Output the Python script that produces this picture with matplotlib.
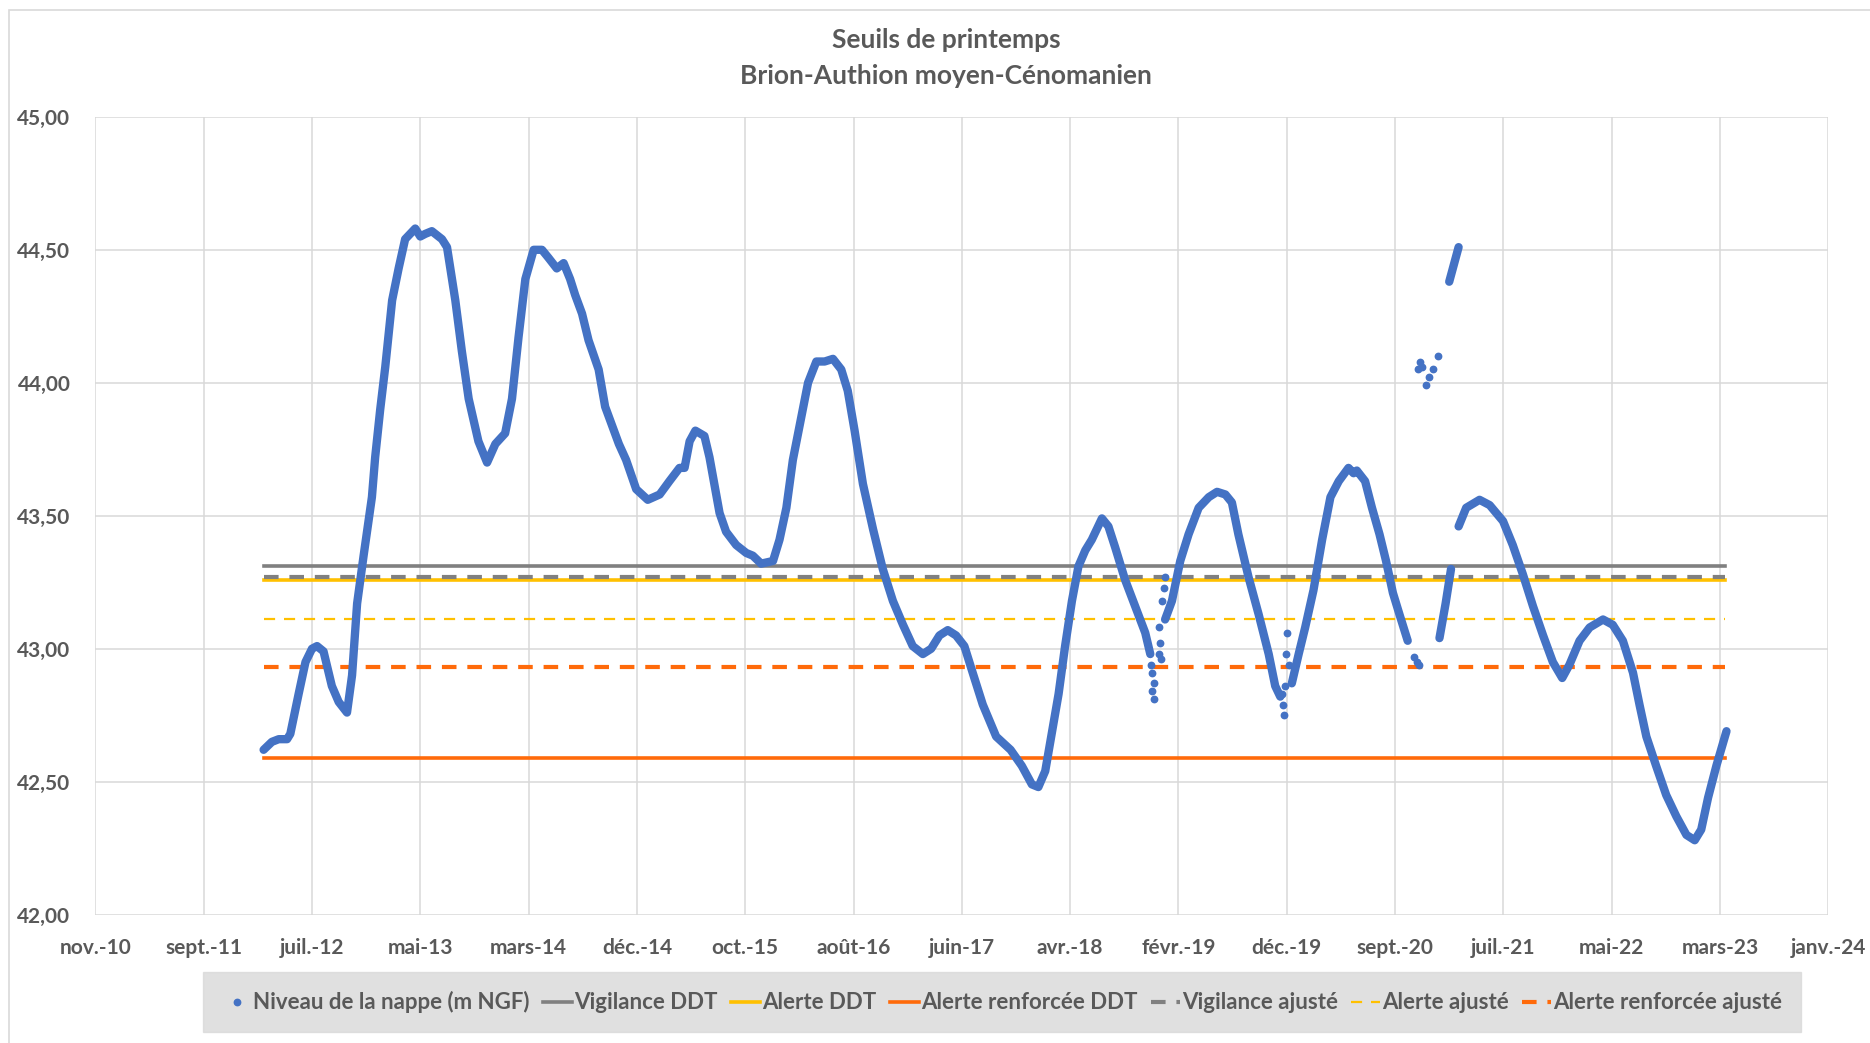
"""
   Seuils de printemps - Brion-Authion moyen-Cenomanien.
   Niveau de la nappe et seuils DDT / ajustes.
"""
import numpy as np
import pandas as pd
import matplotlib
matplotlib.use("Agg")
import matplotlib.pyplot as plt
import matplotlib.dates as mdates
from matplotlib.ticker import FuncFormatter, MultipleLocator
from matplotlib.patches import Rectangle

#     Dates en numeros de jour Excel (origine 1899-12-30), None = trou dans la serie
niveau_jours = [
    40966, 40989, 41008, 41031, 41040, 41063, 41082, 41100, 41114, 41132,
    41155, 41174, 41197, 41211, 41225, 41243, 41266, 41275, 41289, 41303,
    41322, 41340, 41358, 41386, 41400, 41414, 41432, 41460, 41474, 41497,
    41515, 41534, 41561, 41585, 41608, 41635, 41654, 41672, 41691, 41714,
    41737, 41755, 41778, 41797, 41815, 41829, 41848, 41866, 41894, 41912,
    41950, 41970, 41998, 42030, 42063, 42090, 42118, 42132, 42146, 42162,
    42187, 42201, 42229, 42247, 42275, 42303, 42321, 42344, 42377, 42395,
    42414, 42432, 42455, 42474, 42497, 42520, 42543, 42566, 42584, 42603,
    42626, 42654, 42681, 42709, 42737, 42764, 42792, 42815, 42838, 42861,
    42884, 42907, 42930, 42958, 42995, 43035, 43066, 43094, 43112, 43131,
    43149, 43168, 43186, 43205, 43223, 43242, 43260, 43274, 43288, 43306,
    43325, 43352, 43380, 43408, 43422, None,
    43463, 43482, 43505, 43528, 43556, 43584, 43607, 43630, 43648, 43666,
    43694, 43722, 43750, 43768, 43782, None,
    43814, 43833, 43851, 43874, 43898, 43921, 43944, 43971, 43985, 43994,
    44017, 44036, 44057, 44075, 44094, 44112, 44135, None,
    44223, 44240, 44255, None,
    44250, 44276, None,
    44276, 44297, 44334, 44362, 44399, 44426, 44454, 44482, 44510, 44537,
    44563, 44583, 44611, 44639, 44676, 44703, 44731, 44759, 44777, 44796,
    44823, 44851, 44879, 44907, 44930, 44948, 44967, 44990, 45018,
]
niveau_m = [
    42.62, 42.65, 42.66, 42.66, 42.68, 42.83, 42.95, 43.00, 43.01, 42.99,
    42.86, 42.80, 42.76, 42.90, 43.17, 43.35, 43.57, 43.72, 43.90, 44.06,
    44.31, 44.43, 44.54, 44.58, 44.55, 44.56, 44.57, 44.54, 44.51, 44.31,
    44.12, 43.94, 43.78, 43.70, 43.77, 43.81, 43.94, 44.17, 44.39, 44.50,
    44.50, 44.47, 44.43, 44.45, 44.39, 44.33, 44.26, 44.16, 44.05, 43.91,
    43.77, 43.71, 43.60, 43.56, 43.58, 43.63, 43.68, 43.68, 43.78, 43.82,
    43.80, 43.72, 43.51, 43.44, 43.39, 43.36, 43.35, 43.32, 43.33, 43.41,
    43.53, 43.71, 43.87, 44.00, 44.08, 44.08, 44.09, 44.05, 43.97, 43.82,
    43.62, 43.45, 43.30, 43.18, 43.09, 43.01, 42.98, 43.00, 43.05, 43.07,
    43.05, 43.01, 42.91, 42.79, 42.67, 42.62, 42.56, 42.49, 42.48, 42.54,
    42.68, 42.83, 43.01, 43.18, 43.31, 43.37, 43.41, 43.45, 43.49, 43.46,
    43.38, 43.26, 43.16, 43.06, 42.98, None,
    43.11, 43.18, 43.33, 43.43, 43.53, 43.57, 43.59, 43.58, 43.55, 43.43,
    43.27, 43.13, 42.98, 42.86, 42.82, None,
    42.87, 42.98, 43.08, 43.22, 43.41, 43.57, 43.63, 43.68, 43.66, 43.67,
    43.63, 43.53, 43.43, 43.33, 43.21, 43.13, 43.03, None,
    43.04, 43.17, 43.30, None,
    44.38, 44.51, None,
    43.46, 43.53, 43.56, 43.54, 43.48, 43.39, 43.28, 43.16, 43.05, 42.95,
    42.89, 42.94, 43.03, 43.08, 43.11, 43.09, 43.03, 42.91, 42.79, 42.67,
    42.56, 42.45, 42.37, 42.30, 42.28, 42.32, 42.44, 42.56, 42.69,
]

#     Mesures isolees (points disperses)
points_jours = [43424, 43428, 43431, 43426, 43431, 43445, 43449, 43445, 43452,
                43454, 43459, 43463,
                43787, 43789, 43791, 43796, 43798, 43800, 43805,
                44153, 44160, 44166,
                44163, 44170, 44175, 44186, 44195, 44205, 44218]
points_m = [42.94, 42.91, 42.87, 42.84, 42.81, 42.98, 43.02, 43.08, 42.96,
            43.18, 43.23, 43.27,
            42.83, 42.79, 42.75, 42.86, 42.98, 43.06, 42.94,
            42.97, 42.95, 42.94,
            44.05, 44.08, 44.06, 43.99, 44.02, 44.05, 44.10]

#     Seuils (m NGF) et periode d'affichage
seuils_noms = ["Vigilance DDT", "Alerte DDT", "Alerte renforcée DDT",
               "Vigilance ajusté", "Alerte ajusté", "Alerte renforcée ajusté"]
seuils_valeurs = [43.31, 43.26, 42.59, 43.27, 43.11, 42.93]
seuils_periode = [40966, 45014]

#     Axe des dates (numeros Excel) et libelles de mois
axe_debut, axe_fin, axe_pas = 40500, 45300, 300
mois_fr = ["janv.", "févr.", "mars", "avr.", "mai", "juin",
           "juil.", "août", "sept.", "oct.", "nov.", "déc."]


def excel_vers_date(jours):
    """Convertit des numeros de jour Excel en dates matplotlib."""
    out = []
    for j in jours:
        if j is None:
            out.append(np.nan)
        else:
            out.append(mdates.date2num(pd.Timestamp("1899-12-30") + pd.Timedelta(days=j)))
    return np.array(out, dtype=float)


def main():
    plt.rcParams['font.family'] = ['Lato', 'DejaVu Sans']
    texte = "#595959"

    fig = plt.figure(figsize=(18.7, 10.43), dpi=100)
    ax = fig.add_axes([0.051, 0.123, 0.9267, 0.765])

    #     Cadre du graphique
    fig.patches.append(Rectangle((0.0048, -0.05), 1.2, 1.04, transform=fig.transFigure,
                                 fill=False, edgecolor="#d9d9d9", lw=1.2))

    x = excel_vers_date(niveau_jours)
    y = np.array([np.nan if v is None else v for v in niveau_m], dtype=float)
    xp = excel_vers_date(points_jours)

    bleu = "#4472C4"
    ax.plot(x, y, color=bleu, lw=6.0, solid_capstyle="round",
            solid_joinstyle="round", zorder=5)
    ax.plot(xp, points_m, "o", color=bleu, ms=4.6, zorder=5,
            label="Niveau de la nappe (m NGF)")

    #     Seuils
    styles = [
        dict(color="#808080", lw=2.6, ls="-"),
        dict(color="#FFC000", lw=2.6, ls="-"),
        dict(color="#FF6A0A", lw=2.6, ls="-"),
        dict(color="#808080", lw=3.0, ls=(0, (3.5, 2.6))),
        dict(color="#FFC000", lw=1.6, ls=(0, (5, 4))),
        dict(color="#FF6A0A", lw=3.0, ls=(0, (3.5, 2.6))),
    ]
    xs = excel_vers_date(seuils_periode)
    ordre_dessin = [4, 1, 3, 0, 5, 2]
    lignes = {}
    for i in ordre_dessin:
        lignes[i], = ax.plot(xs, [seuils_valeurs[i]] * 2, label=seuils_noms[i],
                             zorder=3, **styles[i])

    #     Axes
    ax.set_xlim(excel_vers_date([axe_debut, axe_fin]))
    ax.set_ylim(42.0, 45.0)
    ax.yaxis.set_major_locator(MultipleLocator(0.5))
    ax.yaxis.set_major_formatter(FuncFormatter(lambda v, p: f"{v:.2f}".replace(".", ",")))

    ticks = list(range(axe_debut, axe_fin + 1, axe_pas))
    tick_pos = excel_vers_date(ticks)
    labels = []
    for t in tick_pos:
        d = mdates.num2date(t)
        labels.append(f"{mois_fr[d.month - 1]}-{d.year % 100:02d}")
    ax.set_xticks(tick_pos)
    ax.set_xticklabels(labels)

    ax.grid(True, color="#d9d9d9", lw=1.1)
    ax.set_axisbelow(True)
    for s in ax.spines.values():
        s.set_visible(False)
    ax.tick_params(length=0, labelsize=15, labelcolor=texte)
    ax.tick_params(axis="x", pad=17)
    ax.tick_params(axis="y", pad=18)
    for lab in ax.get_xticklabels() + ax.get_yticklabels():
        lab.set_fontweight("bold")

    #     Titre
    fig.text(0.506, 0.962, "Seuils de printemps", ha="center", va="center",
             fontsize=19, fontweight="bold", color=texte)
    fig.text(0.506, 0.927, "Brion-Authion moyen-Cénomanien", ha="center", va="center",
             fontsize=19, fontweight="bold", color=texte)

    #     Legende
    handles = [ax.lines[1]] + [lignes[i] for i in range(6)]
    leg = fig.legend(handles, [h.get_label() for h in handles], loc="center",
                     bbox_to_anchor=(0.536, 0.039), ncol=7, frameon=True,
                     fontsize=16, handlelength=1.3, handletextpad=0.1,
                     columnspacing=0.6, borderpad=0.85, fancybox=False,
                     markerscale=1.0)
    leg.get_frame().set_facecolor("#d9d9d9")
    leg.get_frame().set_edgecolor("#d9d9d9")
    for t in leg.get_texts():
        t.set_color(texte)
        t.set_fontweight("bold")

    fig.savefig("out.png", dpi=100, facecolor="white")


main()
